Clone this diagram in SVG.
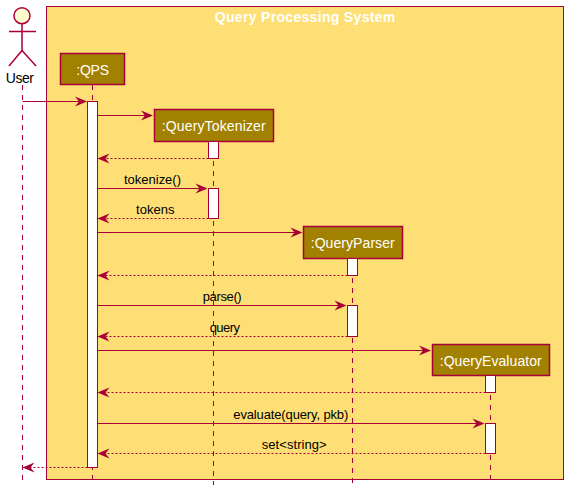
<svg xmlns="http://www.w3.org/2000/svg" width="568" height="491" viewBox="0 0 568 491">
<style>
text{font-family:"Liberation Sans",Arial,sans-serif;font-size:13px;fill:#000}
.pt{font-size:14px;fill:#fff}
.pb{fill:#A38100;stroke:#A80036;stroke-width:1.5}
.ac{fill:#fff;stroke:#A80036;stroke-width:1}
.ll{stroke:#A80036;stroke-width:1;stroke-dasharray:5 5;fill:none}
.s{stroke:#A80036;stroke-width:1;fill:none}
.d{stroke:#A80036;stroke-width:1;stroke-dasharray:2 2;fill:none}
.h{fill:#A80036}
</style>
<defs>
<path id="r" class="h" d="M0 0L-12-5-8 0-12 5Z"/>
<path id="l" class="h" d="M0 0L12-5 8 0 12 5Z"/>
</defs>
<rect x="46.5" y="6.5" width="517" height="473" fill="#FEDF76" stroke="#A80036" stroke-width="1"/>
<text x="214.700" y="22" textLength="180.600" style="font-size:14px;font-weight:bold;fill:#fff">Query Processing System</text>
<g id="lifelines">
<path class="ll" d="M22.500 85V481"/>
<path class="ll" d="M92.500 85V481"/>
<path class="ll" d="M213.500 141V485"/>
<path class="ll" d="M352.500 258V484"/>
<path class="ll" d="M490.500 375V481"/>
</g>
<g id="user">
<circle cx="22" cy="15.700" r="8" fill="#FEFECE" stroke="#A80036" stroke-width="1.500"/>
<path d="M22 23.700V50.500M9 31.500H36M22 50.500L9 66M22 50.500L36 66" fill="none" stroke="#A80036" stroke-width="1.500"/>
<text x="5.700" y="83" textLength="28.300" style="font-size:14px">User</text>
</g>
<g id="qps">
<rect class="pb" x="60.500" y="53.500" width="64" height="31"/>
<text class="pt" x="76.300" y="75" textLength="32.700">:QPS</text>
<rect class="ac" x="87.500" y="101.500" width="10" height="366"/>
</g>
<g id="querytokenizer">
<rect class="pb" x="154.500" y="109.500" width="119" height="32"/>
<text class="pt" x="161.700" y="131" textLength="104">:QueryTokenizer</text>
<rect class="ac" x="208.500" y="141.500" width="10" height="17"/>
<rect class="ac" x="208.500" y="188.500" width="10" height="30"/>
</g>
<g id="queryparser">
<rect class="pb" x="303.500" y="226.500" width="99" height="32"/>
<text class="pt" x="310.700" y="248" textLength="84">:QueryParser</text>
<rect class="ac" x="347.500" y="258.500" width="10" height="17"/>
<rect class="ac" x="347.500" y="305.500" width="10" height="31"/>
</g>
<g id="queryevaluator">
<rect class="pb" x="432.500" y="344.500" width="117" height="31"/>
<text class="pt" x="439.700" y="366" textLength="102">:QueryEvaluator</text>
<rect class="ac" x="485.500" y="375.500" width="10" height="17"/>
<rect class="ac" x="485.500" y="423.500" width="10" height="30"/>
</g>
<g id="connectors">
<path class="s" d="M22.500 101.500H86"/><use href="#r" x="87" y="101.500"/>
<path class="s" d="M97.500 115.500H152"/><use href="#r" x="153" y="115.500"/>
<path class="d" d="M208.500 158.500H98"/><use href="#l" x="97.500" y="158.500"/>
<path class="s" d="M97.500 188.500H206"/><use href="#r" x="207.500" y="188.500"/>
<path class="d" d="M208.500 218.500H98"/><use href="#l" x="97.500" y="218.500"/>
<path class="s" d="M97.500 232.500H301"/><use href="#r" x="302.500" y="232.500"/>
<path class="d" d="M347.500 275.500H98"/><use href="#l" x="97.500" y="275.500"/>
<path class="s" d="M97.500 305.500H345"/><use href="#r" x="346.500" y="305.500"/>
<path class="d" d="M347.500 336.500H98"/><use href="#l" x="97.500" y="336.500"/>
<path class="s" d="M97.500 350.500H430"/><use href="#r" x="431" y="350.500"/>
<path class="d" d="M485.500 392.500H98"/><use href="#l" x="97.500" y="392.500"/>
<path class="s" d="M97.500 423.500H483"/><use href="#r" x="484.500" y="423.500"/>
<path class="d" d="M485.500 453.500H98"/><use href="#l" x="97.500" y="453.500"/>
<path class="d" d="M87.500 467.500H23"/><use href="#l" x="22.500" y="467.500"/>
<text x="124" y="184" textLength="57">tokenize()</text>
<text x="136" y="214" textLength="38.500">tokens</text>
<text x="202.700" y="301" textLength="39">parse()</text>
<text x="209.700" y="331.500" textLength="30.300">query</text>
<text x="233.300" y="418.500" textLength="115">evaluate(query, pkb)</text>
<text x="261.700" y="449" textLength="65">set&lt;string&gt;</text>
</g>
</svg>
